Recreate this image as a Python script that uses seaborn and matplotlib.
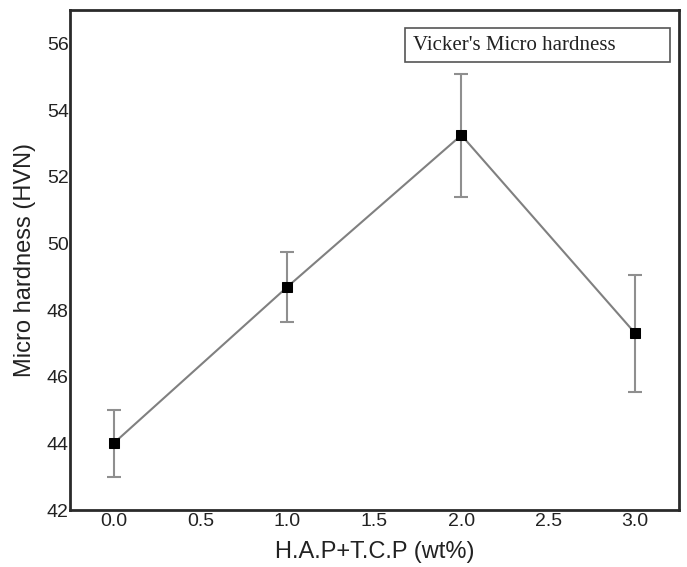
import matplotlib
matplotlib.use('Agg')
import matplotlib.pyplot as plt
from matplotlib.patches import Rectangle
import pandas as pd
import seaborn as sns

# values
content = [0.0, 1.0, 2.0, 3.0]
hardness = [44.0, 48.7, 53.25, 47.3]
err = [1.0, 1.05, 1.85, 1.75]

data = pd.DataFrame({'content': content, 'hardness': hardness, 'err': err})

sns.set_style('white')
plt.rcParams['font.family'] = ['Liberation Sans', 'DejaVu Sans']

fig = plt.figure(figsize=(6.87, 5.67), dpi=100)
ax = fig.add_axes([0.102, 0.1005, 0.886, 0.8815])

# error bars
ax.errorbar(data['content'], data['hardness'], yerr=data['err'], fmt='none',
            ecolor='#8f8f8f', elinewidth=1.5, capsize=5, capthick=1.5, zorder=2)
sns.lineplot(data=data, x='content', y='hardness', ax=ax, color='#808080',
             linewidth=1.5, marker='s', markersize=7, markerfacecolor='black',
             markeredgecolor='black', zorder=3)

ax.set_xlim(-0.25, 3.25)
ax.set_ylim(42, 57)
ax.set_xticks([0.0, 0.5, 1.0, 1.5, 2.0, 2.5, 3.0])
ax.set_xticklabels(['0.0', '0.5', '1.0', '1.5', '2.0', '2.5', '3.0'])
ax.set_yticks([42, 44, 46, 48, 50, 52, 54, 56])
ax.tick_params(axis='x', length=0, labelsize=14, colors='#222222', pad=2)
ax.tick_params(axis='y', length=0, labelsize=14, colors='#222222', pad=1)

ax.set_xlabel('H.A.P+T.C.P (wt%)', fontsize=17, color='#222222', labelpad=8)
ax.set_ylabel('Micro hardness (HVN)', fontsize=17, color='#222222', labelpad=8)

for s in ax.spines.values():
    s.set_linewidth(2)
    s.set_color('#2a2a2a')

# legend-like label box
ax.add_patch(Rectangle((0.55, 0.896), 0.435, 0.068, transform=ax.transAxes,
                       facecolor='white', edgecolor='#555555', linewidth=1.2, zorder=4))
ax.text(0.563, 0.93, "Vicker's Micro hardness", transform=ax.transAxes,
        family=['Liberation Serif', 'DejaVu Serif'], fontsize=15, color='#222222',
        va='center', ha='left', zorder=5)

fig.savefig('out.png', dpi=100)
